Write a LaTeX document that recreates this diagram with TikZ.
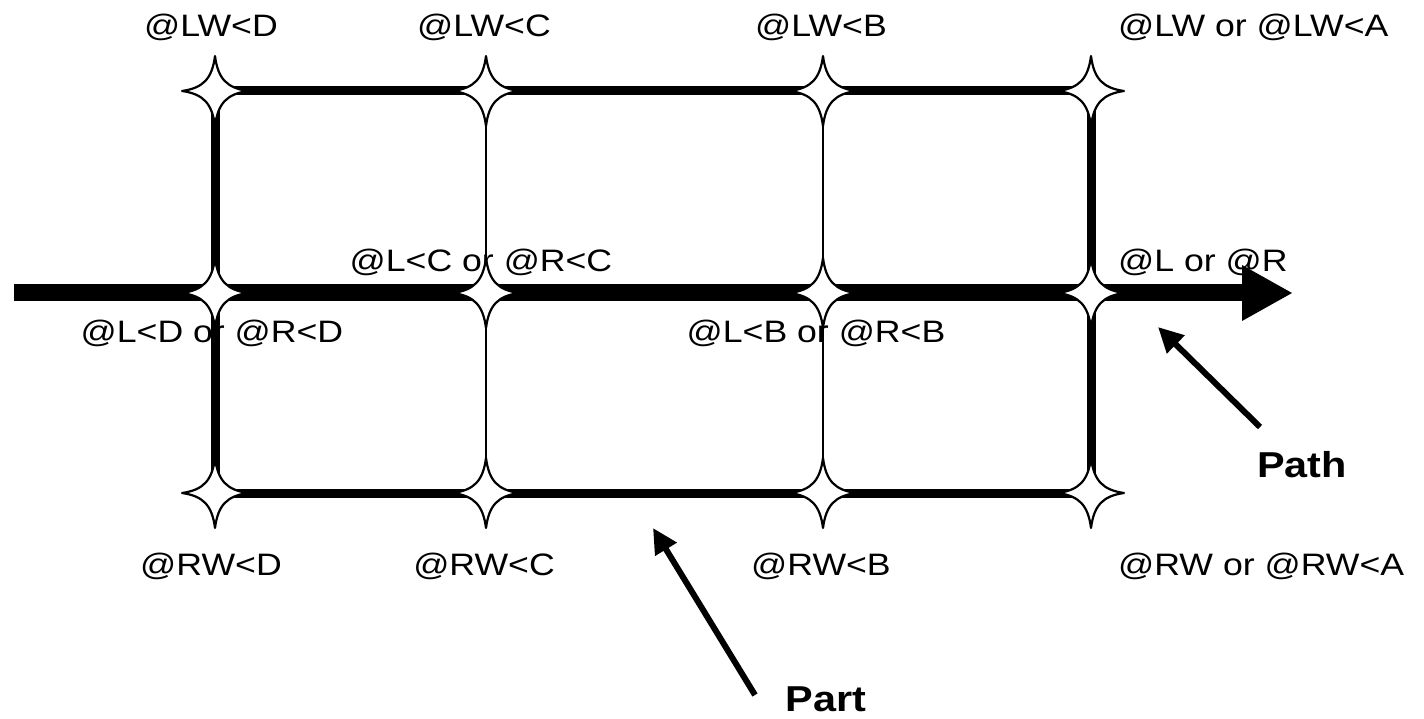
\documentclass[tikz,border=0pt]{standalone}
\usepackage{fontspec}
\setmainfont{Liberation Sans}
\newfontfamily\labfont[FakeStretch=1.15]{Liberation Sans}
\usetikzlibrary{arrows.meta}
\begin{document}
\begin{tikzpicture}[x=1pt,y=-1pt,
  lab/.style={font=\labfont\fontsize{31}{36}\selectfont, inner sep=0pt, anchor=base},
  labw/.style={lab, anchor=base west},
  big/.style={font=\labfont\bfseries\fontsize{36}{42}\selectfont, inner sep=0pt, anchor=base},
  thickline/.style={line width=9pt, line cap=butt},
  thinline/.style={line width=1.6pt},
  pointer/.style={line width=6pt, -{Triangle[length=25pt,width=24pt]}},
  mainarrow/.style={line width=17pt, -{Triangle[length=51pt,width=52pt]}},
  star4/.pic={\path[draw=black, fill=white, line width=2.2pt, line join=round]
     (33,0) .. controls (12,3) and (3,12) .. (0,35)
     .. controls (-3,12) and (-12,3) .. (-33,0)
     .. controls (-12,-3) and (-3,-12) .. (0,-35)
     .. controls (3,-12) and (12,-3) .. (33,0) -- cycle;}
]
\useasboundingbox (0,0) rectangle (1424,719);
% grid points
\coordinate (t1) at (215,91);  \coordinate (t2) at (486,91);
\coordinate (t3) at (823,91);  \coordinate (t4) at (1091,91);
\coordinate (m1) at (215,293); \coordinate (m2) at (486,293);
\coordinate (m3) at (823,293); \coordinate (m4) at (1091,293);
\coordinate (b1) at (215,493); \coordinate (b2) at (486,493);
\coordinate (b3) at (823,493); \coordinate (b4) at (1091,493);
\coordinate (start) at (14,293); \coordinate (end) at (1293,293);

% labels
\node[lab] (lwd) at (211,37) {@LW<D};
\node[lab] (lwc) at (484,37) {@LW<C};
\node[lab] (lwb) at (821,37) {@LW<B};
\node[labw] (lwa) at (1118,37) {@LW or @LW<A};
\node[lab] (lc) at (481,272) {@L<C or @R<C};
\node[labw] (lr) at (1118,272) {@L or @R};
\node[lab] (ld) at (212,342) {@L<D or @R<D};
\node[lab] (lb) at (816,342) {@L<B or @R<B};
\node[lab] (rwd) at (211,575) {@RW<D};
\node[lab] (rwc) at (484,575) {@RW<C};
\node[lab] (rwb) at (821,575) {@RW<B};
\node[labw] (rwa) at (1118,575) {@RW or @RW<A};
\node[big] (path) at (1302,477) {Path};
\node[big] (part) at (826,711) {Part};

% frame
\draw[thickline] (t1) -- (t4);
\draw[thickline] (b1) -- (b4);
\draw[thickline] (t1) -- (b1);
\draw[thickline] (t4) -- (b4);
\draw[thinline] (t2) -- (b2);
\draw[thinline] (t3) -- (b3);
% main path arrow
\draw[mainarrow] (start) -- (end);
% stars
\foreach \p in {t1,t2,t3,t4,m1,m2,m3,m4,b1,b2,b3,b4}
  \pic at (\p) {star4};
% pointers
\coordinate (parttail) at (755,695); \coordinate (parttip) at (653,528);
\coordinate (pathtail) at (1260,427); \coordinate (pathtip) at (1158,327);
\draw[pointer] (parttail) -- (parttip);
\draw[pointer] (pathtail) -- (pathtip);
\end{tikzpicture}
\end{document}
